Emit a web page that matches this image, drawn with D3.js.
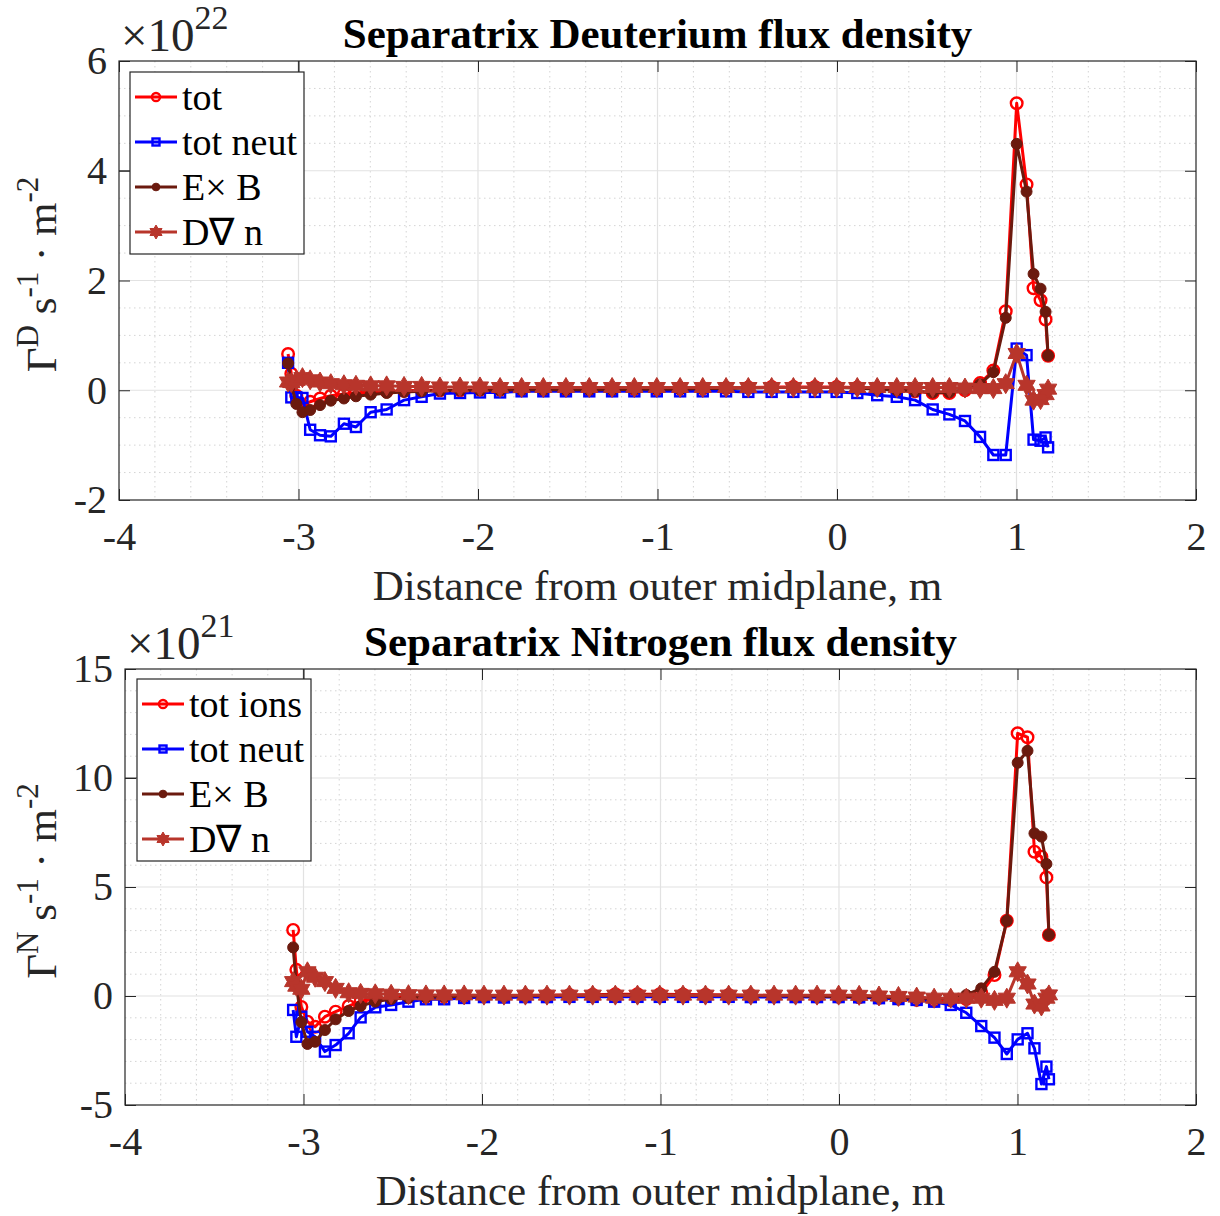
<!DOCTYPE html>
<html>
<head>
<meta charset="utf-8">
<script src="https://cdn.jsdelivr.net/npm/d3@7"></script>
<style>
  body { margin: 0; background: #fff; }
  text { font-family: "Liberation Serif", "Times New Roman", serif; }
</style>
</head>
<body>
<div id="chart"></div>
<script>
// Distance from outer midplane (m), shared by both panels
const xGrid = [-3.058, -3.040, -3.012, -2.978, -2.935, -2.880, -2.820, -2.747, -2.680, -2.598,
  -2.509, -2.412, -2.314, -2.212, -2.100, -1.989, -1.877, -1.757, -1.636, -1.510,
  -1.380, -1.253, -1.129, -1.004, -0.874, -0.748, -0.618, -0.494, -0.364, -0.243,
  -0.123, -0.002, 0.113, 0.224, 0.333, 0.435, 0.533, 0.626, 0.713, 0.797,
  0.871, 0.940, 1.001, 1.056, 1.095, 1.134, 1.162, 1.176];

// Deuterium flux density, x 1e22
const dTot = [0.66, 0.30, -0.10, -0.28, -0.21, -0.15, -0.10, -0.07, -0.05, -0.03,
  -0.02, -0.01, 0, 0, 0, 0.01, 0.01, 0.01, 0.01, 0.01,
  0.01, 0.01, 0.02, 0.02, 0.03, 0.03, 0.04, 0.05, 0.06, 0.06,
  0.06, 0.06, 0.05, 0.03, 0.00, -0.02, -0.05, -0.05, 0.00, 0.13,
  0.36, 1.44, 5.23, 3.75, 1.86, 1.64, 1.29, 0.63];
const dNeut = [0.50, -0.13, -0.13, -0.14, -0.72, -0.82, -0.84, -0.61, -0.67, -0.40,
  -0.35, -0.18, -0.12, -0.06, -0.05, -0.04, -0.04, -0.02, -0.02, -0.02,
  -0.02, -0.02, -0.02, -0.02, -0.02, -0.02, -0.02, -0.03, -0.03, -0.03,
  -0.03, -0.03, -0.05, -0.09, -0.12, -0.18, -0.35, -0.44, -0.56, -0.85,
  -1.18, -1.18, 0.76, 0.64, -0.90, -0.92, -0.86, -1.04];
const dExB = [0.49, 0.10, -0.25, -0.40, -0.36, -0.27, -0.19, -0.15, -0.11, -0.08,
  -0.05, -0.03, -0.02, -0.01, 0, 0, 0, 0.01, 0.01, 0.01,
  0.01, 0.01, 0.02, 0.02, 0.02, 0.03, 0.03, 0.04, 0.05, 0.05,
  0.05, 0.05, 0.04, 0.02, 0.00, -0.02, -0.04, -0.04, 0.02, 0.11,
  0.33, 1.32, 4.49, 3.62, 2.12, 1.85, 1.43, 0.63];
const dDiff = [0.15, 0.14, 0.18, 0.23, 0.19, 0.15, 0.12, 0.10, 0.09, 0.08,
  0.08, 0.07, 0.07, 0.06, 0.06, 0.06, 0.05, 0.05, 0.05, 0.05,
  0.05, 0.05, 0.05, 0.05, 0.05, 0.05, 0.05, 0.05, 0.05, 0.05,
  0.05, 0.05, 0.05, 0.05, 0.05, 0.05, 0.05, 0.05, 0.04, 0.03,
  0.03, 0.12, 0.67, 0.09, -0.18, -0.17, -0.08, 0.02];

// Nitrogen flux density, x 1e21
const nTot = [3.03, 1.20, -0.50, -1.18, -1.41, -0.95, -0.72, -0.46, -0.23, -0.15,
  -0.09, -0.05, -0.03, -0.02, 0, 0, 0, 0.02, 0.03, 0.05,
  0.06, 0.08, 0.08, 0.08, 0.07, 0.06, 0.05, 0.04, 0.02, 0,
  -0.02, -0.04, -0.06, -0.08, -0.12, -0.18, -0.22, -0.20, -0.14, 0.15,
  0.96, 3.45, 12.05, 11.87, 6.62, 6.39, 5.44, 2.80];
const nNeut = [-0.64, -1.87, -0.95, -1.64, -1.87, -2.55, -2.25, -1.71, -0.98, -0.52,
  -0.41, -0.26, -0.15, -0.15, -0.09, -0.05, -0.07, -0.05, -0.05, -0.04,
  -0.04, -0.04, -0.04, -0.04, -0.04, -0.04, -0.04, -0.05, -0.05, -0.05,
  -0.05, -0.05, -0.06, -0.10, -0.14, -0.18, -0.26, -0.41, -0.77, -1.38,
  -1.91, -2.66, -1.99, -1.71, -2.40, -4.04, -3.24, -3.82];
const nExB = [2.23, 0.50, -1.20, -2.20, -2.10, -1.56, -1.07, -0.69, -0.46, -0.26,
  -0.14, -0.08, -0.05, -0.03, -0.01, 0, 0, 0.01, 0.02, 0.03,
  0.04, 0.05, 0.05, 0.05, 0.04, 0.04, 0.03, 0.02, 0.01, 0,
  -0.01, -0.02, -0.03, -0.05, -0.08, -0.10, -0.12, -0.10, 0.05, 0.35,
  1.11, 3.45, 10.70, 11.25, 7.46, 7.31, 6.06, 2.80];
const nDiff = [0.66, 0.45, 0.31, 1.11, 0.86, 0.66, 0.35, 0.15, 0.12, 0.10,
  0.08, 0.06, 0.05, 0.05, 0.05, 0.04, 0.04, 0.04, 0.04, 0.04,
  0.04, 0.04, 0.04, 0.04, 0.04, 0.04, 0.04, 0.04, 0.04, 0.04,
  0.04, 0.04, 0.03, 0.00, -0.02, -0.05, -0.10, -0.10, -0.10, -0.10,
  -0.20, -0.10, 1.11, 0.55, -0.37, -0.46, -0.10, 0.05];

const xTicks = [-4, -3, -2, -1, 0, 1, 2];
const dYTicks = [-2, 0, 2, 4, 6];
const nYTicks = [-5, 0, 5, 10, 15];

const dNames = ['tot', 'tot neut', 'E\u00d7 B', 'D\u2207 n'];
const nNames = ['tot ions', 'tot neut', 'E\u00d7 B', 'D\u2207 n'];

const colors = ['#ff0000', '#0000ff', '#6b1a0e', '#b8352b'];
const markers = ['circleOpen', 'square', 'circleFilled', 'hexagram'];
const textColor = '#262626';

const W = 1220, H = 1216;
const svg = d3.select('#chart').append('svg')
  .attr('width', W).attr('height', H)
  .attr('viewBox', [0, 0, W, H]);

function hexagram(R) {
  const pts = [];
  for (let i = 0; i < 12; i++) {
    const r = i % 2 === 0 ? R : R * 0.58;
    const a = -Math.PI / 2 + i * Math.PI / 6;
    pts.push([r * Math.cos(a), r * Math.sin(a)]);
  }
  return 'M' + pts.map(p => p.join(',')).join('L') + 'Z';
}

function drawMarker(sel, type, color, s) {
  if (type === 'circleOpen') {
    sel.append('circle').attr('r', 5.8 * s).attr('fill', 'none')
      .attr('stroke', color).attr('stroke-width', 2.4);
  } else if (type === 'square') {
    sel.append('rect').attr('x', -5 * s).attr('y', -5 * s)
      .attr('width', 10 * s).attr('height', 10 * s)
      .attr('fill', 'none').attr('stroke', color).attr('stroke-width', 2.4);
  } else if (type === 'circleFilled') {
    sel.append('circle').attr('r', 5.5 * s).attr('fill', color)
      .attr('stroke', color).attr('stroke-width', 1);
  } else {
    sel.append('path').attr('d', hexagram(10 * s)).attr('fill', color)
      .attr('stroke', color).attr('stroke-width', 1);
  }
}

function drawPanel(p) {
  const x = d3.scaleLinear().domain([-4, 2]).range([p.left, p.right]);
  const y = d3.scaleLinear().domain(p.yDomain).range([p.bottom, p.top]);
  const g = svg.append('g');

  // minor grid (dotted)
  const isMajor = (v, step) => Math.abs(v / step - Math.round(v / step)) < 1e-6;
  const xMinor = d3.range(-4, 2.0001, 0.2).filter(v => !isMajor(v, 1));
  const yMinor = d3.range(p.yDomain[0], p.yDomain[1] + 1e-6, p.yMinor).filter(v => !isMajor(v, p.yStep));
  g.append('g').selectAll('line').data(xMinor).join('line')
    .attr('x1', d => x(d)).attr('x2', d => x(d)).attr('y1', p.top).attr('y2', p.bottom)
    .attr('stroke', '#d4d4d4').attr('stroke-width', 1).attr('stroke-dasharray', '1.5,3.5');
  g.append('g').selectAll('line').data(yMinor).join('line')
    .attr('y1', d => y(d)).attr('y2', d => y(d)).attr('x1', p.left).attr('x2', p.right)
    .attr('stroke', '#d4d4d4').attr('stroke-width', 1).attr('stroke-dasharray', '1.5,3.5');

  // major grid
  g.append('g').selectAll('line').data(xTicks.slice(1, -1)).join('line')
    .attr('x1', d => x(d)).attr('x2', d => x(d)).attr('y1', p.top).attr('y2', p.bottom)
    .attr('stroke', '#e2e2e2').attr('stroke-width', 1.2);
  g.append('g').selectAll('line').data(p.yTicks.slice(1, -1)).join('line')
    .attr('y1', d => y(d)).attr('y2', d => y(d)).attr('x1', p.left).attr('x2', p.right)
    .attr('stroke', '#e2e2e2').attr('stroke-width', 1.2);

  // darker grid corner left behind the legend
  g.append('path')
    .attr('d', `M${x(-3)},${p.top}V${y(p.yTicks[3])}H${p.left}`)
    .attr('fill', 'none').attr('stroke', '#4a4a4a').attr('stroke-width', 1.2);

  // series
  const line = d3.line().x(d => x(d[0])).y(d => y(d[1]));
  p.series.forEach((vals, i) => {
    const pts = xGrid.map((xv, j) => [xv, vals[j]]);
    const sg = g.append('g');
    sg.append('path').datum(pts).attr('d', line)
      .attr('fill', 'none').attr('stroke', colors[i]).attr('stroke-width', 3)
      .attr('stroke-linejoin', 'round');
    sg.selectAll('g.m').data(pts).join('g').attr('class', 'm')
      .attr('transform', d => `translate(${x(d[0])},${y(d[1])})`)
      .each(function() { drawMarker(d3.select(this), markers[i], colors[i], 1); });
  });

  // axes with inward ticks
  const styleAxis = a => {
    a.select('.domain').remove();
    a.selectAll('.tick line').attr('stroke', textColor).attr('stroke-width', 1);
    a.selectAll('text').attr('fill', textColor).attr('font-size', 40)
      .attr('font-family', '"Liberation Serif", serif');
  };
  g.append('g').attr('transform', `translate(0,${p.bottom})`)
    .call(d3.axisBottom(x).tickValues(xTicks).tickSize(-11).tickPadding(22).tickFormat(d => String(d)))
    .call(styleAxis);
  g.append('g').attr('transform', `translate(0,${p.top})`)
    .call(d3.axisTop(x).tickValues(xTicks).tickSize(-11).tickFormat(''))
    .call(styleAxis);
  g.append('g').attr('transform', `translate(${p.left},0)`)
    .call(d3.axisLeft(y).tickValues(p.yTicks).tickSize(-11).tickPadding(12).tickFormat(d => String(d)))
    .call(styleAxis);
  g.append('g').attr('transform', `translate(${p.right},0)`)
    .call(d3.axisRight(y).tickValues(p.yTicks).tickSize(-11).tickFormat(''))
    .call(styleAxis);

  g.append('rect').attr('x', p.left).attr('y', p.top)
    .attr('width', p.right - p.left).attr('height', p.bottom - p.top)
    .attr('fill', 'none').attr('stroke', textColor).attr('stroke-width', 1.2);

  // exponent
  const ex = g.append('text').attr('x', p.left + 2).attr('y', p.top - 10)
    .attr('fill', textColor).attr('font-size', 47);
  ex.append('tspan').text('\u00d710');
  ex.append('tspan').attr('font-size', 34).attr('dy', -22).text(p.exponent);

  // title
  g.append('text').attr('x', (p.left + p.right) / 2).attr('y', p.top - 13)
    .attr('text-anchor', 'middle').attr('font-weight', 'bold').attr('font-size', 43)
    .attr('fill', '#000').text(p.title);

  // x label
  g.append('text').attr('x', (p.left + p.right) / 2).attr('y', p.bottom + 100)
    .attr('text-anchor', 'middle').attr('font-size', 43).attr('fill', textColor)
    .text('Distance from outer midplane, m');

  // y label
  const yl = g.append('text')
    .attr('transform', `translate(56,${(p.top + p.bottom) / 2 - 6}) rotate(-90)`)
    .attr('text-anchor', 'middle').attr('font-size', 43).attr('fill', textColor);
  yl.append('tspan').text('\u0393');
  yl.append('tspan').attr('font-size', 31).attr('dy', -18).text(p.species);
  yl.append('tspan').attr('dy', 18).text(' s');
  yl.append('tspan').attr('font-size', 31).attr('dy', -18).text('-1');
  yl.append('tspan').attr('dy', 18).text(' \u00b7 m');
  yl.append('tspan').attr('font-size', 31).attr('dy', -18).text('-2');

  // legend
  const lg = g.append('g').attr('transform', `translate(${p.legX},${p.legY})`);
  lg.append('rect').attr('width', 174).attr('height', 182)
    .attr('fill', '#fff').attr('stroke', textColor).attr('stroke-width', 1.2);
  p.names.forEach((name, i) => {
    const ey = 25 + i * 45;
    const e = lg.append('g').attr('transform', `translate(0,${ey})`);
    e.append('line').attr('x1', 5).attr('x2', 47).attr('y1', 0).attr('y2', 0)
      .attr('stroke', colors[i]).attr('stroke-width', 3);
    const m = e.append('g').attr('transform', 'translate(26,0)');
    drawMarker(m, markers[i], colors[i], 0.7);
    e.append('text').attr('x', 52).attr('y', 13).attr('font-size', 38)
      .attr('fill', '#000').text(name);
  });
}

drawPanel({
  left: 119, right: 1196, top: 61, bottom: 500,
  yDomain: [-2, 6], yTicks: dYTicks, yStep: 2, yMinor: 0.5,
  series: [dTot, dNeut, dExB, dDiff], names: dNames,
  title: 'Separatrix Deuterium flux density', exponent: '22', species: 'D',
  legX: 130, legY: 72
});
drawPanel({
  left: 125, right: 1196, top: 669, bottom: 1105,
  yDomain: [-5, 15], yTicks: nYTicks, yStep: 5, yMinor: 1,
  series: [nTot, nNeut, nExB, nDiff], names: nNames,
  title: 'Separatrix Nitrogen flux density', exponent: '21', species: 'N',
  legX: 137, legY: 679
});
</script>
</body>
</html>
